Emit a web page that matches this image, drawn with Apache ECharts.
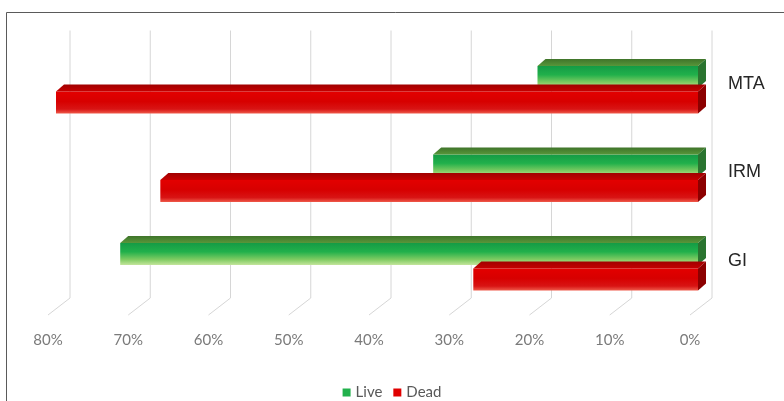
<!DOCTYPE html>
<html>
<head>
<meta charset="utf-8">
<script src="https://cdn.jsdelivr.net/npm/echarts@6/dist/echarts.min.js"></script>
<style>
  html, body { margin: 0; padding: 0; background: #ffffff; }
  #chart { width: 784px; height: 401px; }
</style>
</head>
<body>
<div id="chart"></div>
<script>
// Share of live / dead cells per material (percent)
const categories = ['MTA', 'IRM', 'GI'];
const liveValues = [20, 33, 72];
const deadValues = [80, 67, 28];
const tickValues = [0, 10, 20, 30, 40, 50, 60, 70, 80];

// 3D look: depth offset of the top / side faces and bar geometry
const DX = 8, DY = 7;
const BAR_W = 22;
const BAR_SHIFT = 12.75;

const G = echarts.graphic.LinearGradient;

const styles = {
  Live: {
    front: new G(0, 0, 0, 1, [
      { offset: 0, color: '#149b45' },
      { offset: 0.4, color: '#21b04b' },
      { offset: 0.75, color: '#7fcb62' },
      { offset: 1, color: '#c4e59c' }
    ]),
    top: new G(0, 0, 0, 1, [
      { offset: 0, color: '#3f742a' },
      { offset: 1, color: '#58963a' }
    ]),
    side: '#2a7430',
    legend: '#22b14c'
  },
  Dead: {
    front: new G(0, 0, 0, 1, [
      { offset: 0, color: '#e30000' },
      { offset: 0.45, color: '#d70000' },
      { offset: 0.8, color: '#d81414' },
      { offset: 1, color: '#ef5a4a' }
    ]),
    top: new G(0, 0, 0, 1, [
      { offset: 0, color: '#a00000' },
      { offset: 1, color: '#c60000' }
    ]),
    side: '#8c0000',
    legend: '#e00000'
  }
};

function barSeries(name, values) {
  return {
    name: name,
    type: 'bar',
    data: values,
    barWidth: BAR_W,
    barGap: '16%',
    z: 2,
    itemStyle: { color: styles[name].front },
    emphasis: { disabled: true }
  };
}

// top and right side faces of each bar, placed from the same values
function faceSeries(name, values, offset) {
  const st = styles[name];
  return {
    name: name,
    type: 'custom',
    z: 3,
    silent: true,
    data: values.map((v, i) => [v, i]),
    encode: { x: 0, y: 1 },
    renderItem: function (params, api) {
      const v = api.value(0), ci = api.value(1);
      const pL = api.coord([v, ci]);
      const p0 = api.coord([0, ci]);
      const cy = pL[1] + offset;
      const top = cy - BAR_W / 2, bottom = cy + BAR_W / 2;
      const xL = pL[0], x0 = p0[0];
      return {
        type: 'group',
        children: [
          {
            type: 'polygon',
            shape: { points: [[xL, top], [xL + DX, top - DY], [x0 + DX, top - DY], [x0, top]] },
            style: { fill: st.top }
          },
          {
            type: 'polygon',
            shape: { points: [[x0, top], [x0 + DX, top - DY], [x0 + DX, bottom - DY], [x0, bottom]] },
            style: { fill: st.side }
          }
        ]
      };
    }
  };
}

// back-wall gridlines folding onto the floor
const gridSeries = {
  type: 'custom',
  z: 1,
  silent: true,
  data: tickValues.map(v => [v, 0]),
  encode: { x: 0, y: 1 },
  renderItem: function (params, api) {
    const cs = params.coordSys;
    const x = api.coord([api.value(0), 0])[0] + 14;
    const top = cs.y - 15;
    const vEnd = cs.y + cs.height - 13;
    return {
      type: 'polyline',
      shape: { points: [[x, top], [x, vEnd], [x - 22, vEnd + 17]] },
      style: { stroke: '#d6d6d6', lineWidth: 1, fill: null }
    };
  }
};

const chart = echarts.init(document.getElementById('chart'));
chart.setOption({
  backgroundColor: '#ffffff',
  animation: false,
  graphic: [{
    type: 'polyline',
    silent: true,
    shape: { points: [[6.5, 401], [6.5, 12.5], [784, 12.5]] },
    style: { stroke: '#5a5a5a', lineWidth: 1, fill: null }
  }],
  legend: {
    data: [
      { name: 'Live', icon: 'rect', itemStyle: { color: styles.Live.legend } },
      { name: 'Dead', icon: 'rect', itemStyle: { color: styles.Dead.legend } }
    ],
    left: 'center',
    top: 380,
    itemWidth: 8,
    itemHeight: 8,
    itemGap: 11,
    textStyle: { color: '#595959', fontSize: 15, fontFamily: 'Lato' }
  },
  grid: { left: 56, right: 86, top: 45.5, bottom: 90, containLabel: false },
  xAxis: {
    type: 'value',
    inverse: true,
    min: 0,
    max: 80,
    interval: 10,
    axisLine: { show: false },
    axisTick: { show: false },
    splitLine: { show: false },
    axisLabel: {
      formatter: '{value}%',
      color: '#7a7a7a',
      fontSize: 15,
      fontFamily: 'Lato',
      margin: 22,
      padding: [0, 16, 0, 0]
    }
  },
  yAxis: {
    type: 'category',
    data: categories,
    inverse: true,
    position: 'right',
    axisLine: { show: false },
    axisTick: { show: false },
    splitLine: { show: false },
    axisLabel: {
      color: '#262626',
      fontSize: 18,
      fontFamily: 'Liberation Sans',
      margin: 30,
      verticalAlign: 'bottom',
      lineHeight: 12
    }
  },
  series: [
    gridSeries,
    barSeries('Live', liveValues),
    barSeries('Dead', deadValues),
    faceSeries('Live', liveValues, -BAR_SHIFT),
    faceSeries('Dead', deadValues, BAR_SHIFT)
  ]
});
</script>
</body>
</html>
